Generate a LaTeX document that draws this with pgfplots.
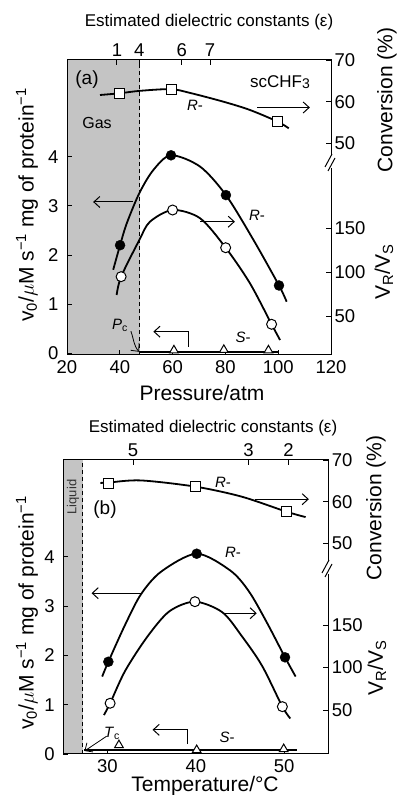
\documentclass[border=0pt]{standalone}
\usepackage{fontspec}
\setmainfont{Liberation Sans}
\usepackage{pgfplots}
\pgfplotsset{compat=1.18}
\usetikzlibrary{arrows.meta}
\definecolor{shade}{RGB}{196,196,196}
\newcommand{\fs}[1]{\fontsize{#1}{#1}\selectfont}
\pgfplotsset{
  common/.style={scale only axis, clip=false, tick align=inside,
    major tick length=5pt, every tick/.style={black, line width=0.9pt},
    axis line style={line width=1pt},
    ticklabel style={font=\fs{18.5}},
    /pgf/number format/assume math mode=true},
  curve/.style={black, line width=1.8pt, smooth, no markers},
  fillc/.style={only marks, mark=*, mark size=5pt, mark options={fill=black, draw=black}},
  openc/.style={only marks, mark=*, mark size=5pt, mark options={fill=white, draw=black, line width=1pt}},
  sq/.style={only marks, mark=square*, mark size=5pt, mark options={fill=white, draw=black, line width=1pt}},
  tri/.style={only marks, mark=triangle*, mark size=5pt, mark options={fill=white, draw=black, line width=1pt}},
}
\tikzset{arr/.style={-{Straight Barb[length=6pt,width=11pt]}, line width=1pt}}
\begin{document}
\begin{tikzpicture}
\useasboundingbox (0,0) rectangle (399pt,795pt);
% ================= Panel (a) =================
\begin{axis}[common, at={(67pt,440pt)}, anchor=south west, width=264pt, height=295pt,
  xmin=20, xmax=120, ymin=-0.035, ymax=5.97, xtick={20,40,...,120}, ytick={0,1,2,3,4},
  xtick pos=left, ytick pos=left, axis on top, yticklabel style={xshift=-5pt},
  xticklabel style={yshift=-2pt}]
  \addplot[fill=shade, draw=none] coordinates {(20,-0.035) (47.5,-0.035) (47.5,5.97) (20,5.97)} -- cycle;
  \addplot[black, line width=0.9pt, dash pattern=on 4pt off 3pt] coordinates {(47.5,-0.035) (47.5,5.97)};
  \addplot[curve] coordinates {(37.5,1.70) (40.1,2.20) (42.6,2.64) (47.4,3.26) (52.7,3.73) (59.4,4.03) (70.4,3.80) (80.2,3.22) (90.6,2.31) (100.3,1.38) (103.2,1.05)};
  \addplot[fillc] coordinates {(40.1,2.20) (59.4,4.03) (80.2,3.22) (100.3,1.38)};
  \addplot[black, line width=1.4pt] coordinates {(47.5,0.03) (100,0.03)};
  \addplot[tri] coordinates {(60.5,0.06) (79.4,0.07) (96.3,0.06)};
  \draw[arr] (axis cs:45,3.08) -- (axis cs:29.9,3.08);
  \draw[arr] (axis cs:65.9,0.13) |- (axis cs:52.7,0.44);
  \draw[arr, line width=0.8pt] (axis cs:44.2,0.45) to[out=-70, in=130] (axis cs:47.3,0.03);
\end{axis}
\begin{axis}[common, at={(67pt,440pt)}, anchor=south west, width=264pt, height=295pt,
  xmin=20, xmax=120, ymin=-0.8, ymax=70, axis x line=none, axis y line*=right,
  ytick={50,60,70}]
  \addplot[curve] coordinates {(32.5,61.6) (39.8,62.0) (47.7,62.6) (59.4,63.0) (66.6,62.1) (79.2,60.0) (89.3,58.0) (99.8,55.2) (104,53.6)};
  \addplot[sq] coordinates {(39.8,62.0) (59.4,63.0) (99.8,55.2)};
  \draw[arr] (axis cs:92,58.6) -- (axis cs:112,58.6);
\end{axis}
\begin{axis}[common, at={(67pt,440pt)}, anchor=south west, width=264pt, height=295pt,
  xmin=20, xmax=120, ymin=6.5, ymax=339.8, axis x line=none, axis y line*=right,
  ytick={50,100,150}]
  \addplot[curve] coordinates {(38.8,74.3) (40.5,95) (47.4,136.4) (51.4,157) (60,170.3) (70.4,161) (80.1,127.7) (89.3,87.5) (97.5,41.2) (100.7,23.4)};
  \addplot[openc] coordinates {(40.5,95) (60,170.3) (80.1,127.7) (97.5,41.2)};
  \draw[arr] (axis cs:70.4,157.1) -- (axis cs:83.6,157.1);
\end{axis}
\begin{axis}[common, at={(67pt,440pt)}, anchor=south west, width=264pt, height=295pt,
  xmin=20, xmax=120, ymin=0, ymax=1, axis y line=none, axis x line*=top,
  xtick={38.9,47.4,63.5,74.2}, xticklabels={1,4,6,7}]
  \addplot[draw=none] coordinates {(30,0.5)};
\end{axis}
% ================= Panel (b) =================
\begin{axis}[common, at={(63.3pt,41pt)}, anchor=south west, width=265pt, height=294pt,
  xmin=25, xmax=55, ymin=0, ymax=5.96, xtick={30,40,50}, ytick={0,1,2,3,4},
  xtick pos=left, ytick pos=left, axis on top, yticklabel style={xshift=-5pt},
  xticklabel style={yshift=-2pt}]
  \addplot[fill=shade, draw=none] coordinates {(25,0) (27.2,0) (27.2,5.96) (25,5.96)} -- cycle;
  \addplot[black, line width=0.9pt, dash pattern=on 4pt off 3pt] coordinates {(27.2,0) (27.2,5.96)};
  \addplot[curve] coordinates {(29.4,1.57) (30.1,1.87) (32,2.62) (33.8,3.24) (36.1,3.70) (40.1,4.06) (43.9,3.72) (46,3.30) (48,2.68) (50.1,1.96) (51.3,1.57)};
  \addplot[fillc] coordinates {(30.1,1.87) (40.1,4.06) (50.1,1.96)};
  \addplot[black, line width=1.4pt] coordinates {(27.3,0.08) (51.5,0.08)};
  \addplot[tri] coordinates {(31.3,0.18) (40.1,0.08) (49.95,0.1)};
  \draw[arr] (axis cs:33.8,3.26) -- (axis cs:28.2,3.26);
  \draw[arr] (axis cs:39.1,0.2) |- (axis cs:35.1,0.49);
  \draw[arr, line width=0.8pt] (axis cs:29.9,0.36) -- (axis cs:27.4,0.06);
\end{axis}
\begin{axis}[common, at={(63.3pt,41pt)}, anchor=south west, width=265pt, height=294pt,
  xmin=25, xmax=55, ymin=-0.55, ymax=70, axis x line=none, axis y line*=right,
  ytick={50,60,70}]
  \addplot[curve] coordinates {(29.2,64.5) (30.14,64.6) (33.77,65.1) (39.97,63.6) (45.2,61.2) (50.26,57.6) (52.43,56.3)};
  \addplot[sq] coordinates {(30.14,64.4) (39.97,63.6) (50.26,57.6)};
  \draw[arr] (axis cs:46.7,60.6) -- (axis cs:52.8,60.6);
\end{axis}
\begin{axis}[common, at={(63.3pt,41pt)}, anchor=south west, width=265pt, height=294pt,
  xmin=25, xmax=55, ymin=-1.8, ymax=344.1, axis x line=none, axis y line*=right,
  ytick={50,100,150}]
  \addplot[curve] coordinates {(29.6,44) (30.3,57.9) (32,96) (34.5,136) (37,166) (39.9,177.4) (43,165) (45.2,137) (47.5,102) (49.8,53.9) (50.7,40)};
  \addplot[openc] coordinates {(30.3,57.9) (39.9,177.4) (49.8,53.9)};
  \draw[arr] (axis cs:43.3,163.8) -- (axis cs:46.9,163.8);
\end{axis}
\begin{axis}[common, at={(63.3pt,41pt)}, anchor=south west, width=265pt, height=294pt,
  xmin=25, xmax=55, ymin=0, ymax=1, axis y line=none, axis x line*=top,
  xtick={32.9,45.96,50.5}, xticklabels={5,3,2}]
  \addplot[draw=none] coordinates {(30,0.5)};
\end{axis}
% ================= Text and breaks (pixel coordinates) =================
\begin{scope}[shift={(0pt,795pt)}, x=1pt, y=-1pt]
  % breaks
  \fill[white] (327,155) rectangle (335,168);
  \draw[line width=1pt] (325,167) -- (332,154);
  \draw[line width=1pt] (328,171) -- (335,158);
  \fill[white] (324.5,561) rectangle (332,574);
  \draw[line width=1pt] (322,573) -- (329,560);
  \draw[line width=1pt] (325,577) -- (332,564);
  % panel (a)
  \node[font=\fs{17}] at (209,22) {Estimated dielectric constants (ε)};
  \node[font=\fs{21}] at (202,393) {Pressure/atm};
  \node[rotate=90, font=\fs{21}] at (27,205) {v\textsubscript{0}/$\mu$M s\textsuperscript{−1} mg of protein\textsuperscript{−1}};
  \node[rotate=90, font=\fs{21}] at (387,100) {Conversion (\%)};
  \node[rotate=90, font=\fs{21}] at (384,272) {V\textsubscript{R}/V\textsubscript{S}};
  \node[font=\fs{19}] at (87,80) {(a)};
  \node[font=\fs{16}] at (97,123) {Gas};
  \node[font=\fs{17}] at (280,82) {scCHF{\fs{14}\raisebox{-0.2ex}{3}}};
  \node[font=\fs{15}] at (195,105) {\textit{R}-};
  \node[font=\fs{15}] at (257,215) {\textit{R}-};
  \node[font=\fs{15}] at (243,337) {\textit{S}-};
  \node[font=\fs{15}] at (120,325) {\textit{P}\textsubscript{c}};
  % panel (b)
  \node[font=\fs{17}] at (213,428) {Estimated dielectric constants (ε)};
  \node[font=\fs{21}] at (205,786) {Temperature/°C};
  \node[rotate=90, font=\fs{21}] at (27,613) {v\textsubscript{0}/$\mu$M s\textsuperscript{−1} mg of protein\textsuperscript{−1}};
  \node[rotate=90, font=\fs{21}] at (376,508) {Conversion (\%)};
  \node[rotate=90, font=\fs{21}] at (377,668) {V\textsubscript{R}/V\textsubscript{S}};
  \node[font=\fs{19}] at (105,510) {(b)};
  \node[rotate=90, font=\fs{13}, text=black!80] at (73,497) {Liquid};
  \node[font=\fs{15}] at (223,482) {\textit{R}-};
  \node[font=\fs{15}] at (233,552) {\textit{R}-};
  \node[font=\fs{15}] at (227,737) {\textit{S}-};
  \node[font=\fs{15}] at (112,733) {\textit{T}\textsubscript{c}};
\end{scope}
\end{tikzpicture}
\end{document}
